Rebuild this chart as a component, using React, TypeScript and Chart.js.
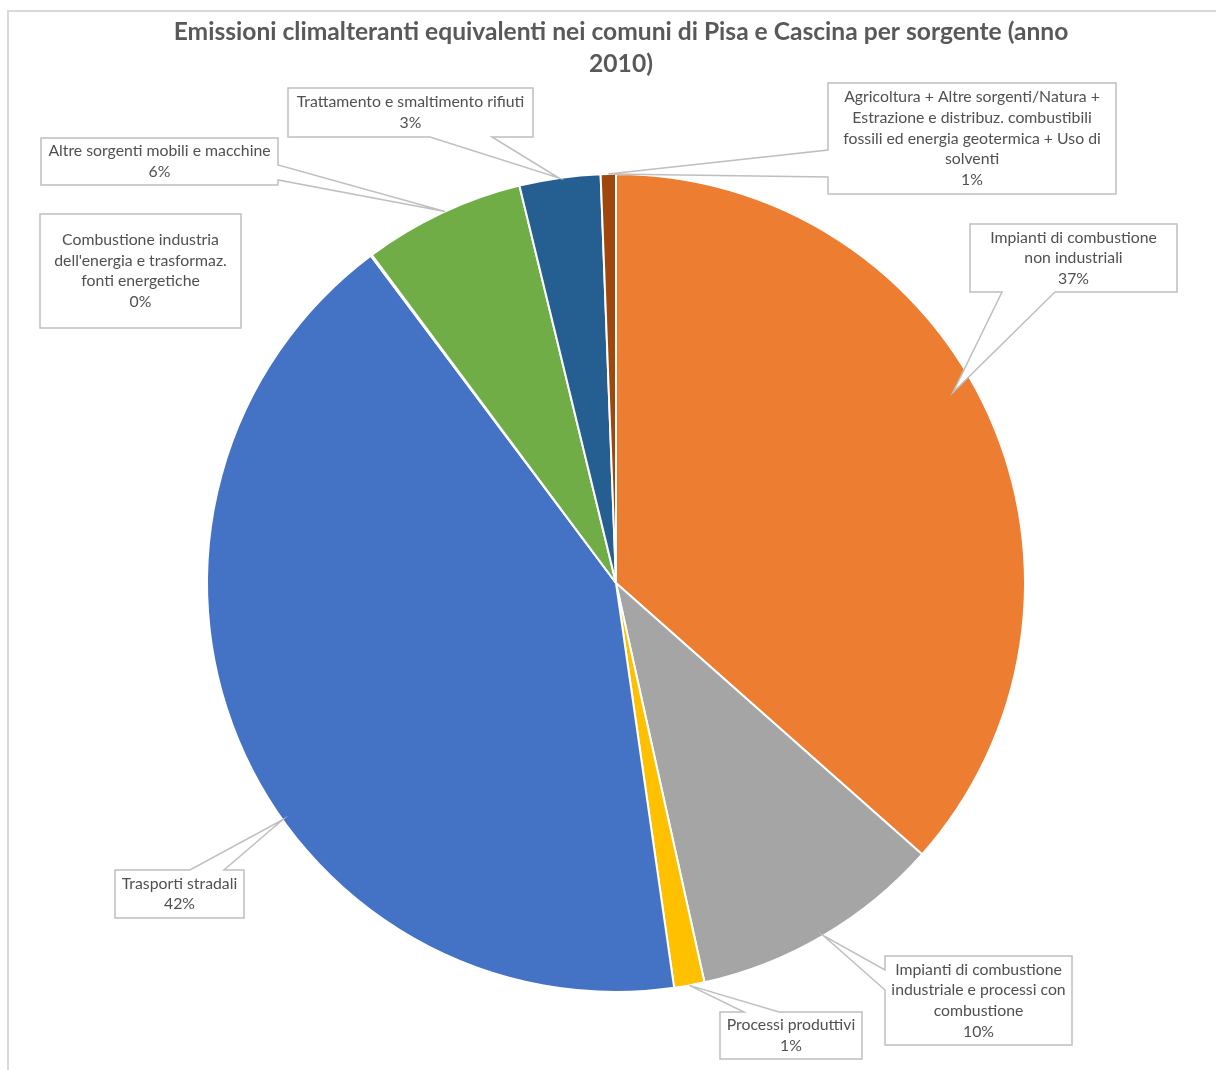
import React, { useEffect, useRef } from "react";
import { Chart, registerables } from "chart.js";

Chart.register(...registerables);

// ---- data ----
const titleLines = [
  "Emissioni climalteranti equivalenti nei comuni di Pisa e Cascina per sorgente (anno",
  "2010)",
];

const categories = [
  "Impianti di combustione non industriali",
  "Impianti di combustione industriale e processi con combustione",
  "Processi produttivi",
  "Trasporti stradali",
  "Combustione industria dell'energia e trasformaz. fonti energetiche",
  "Altre sorgenti mobili e macchine",
  "Trattamento e smaltimento rifiuti",
  "Agricoltura + Altre sorgenti/Natura + Estrazione e distribuz. combustibili fossili ed energia geotermica + Uso di solventi",
];

// share of emissions (%)
const shares = [36.6, 10.0, 1.2, 42.1, 0.05, 6.4, 3.2, 0.6];

// label text as wrapped in the reference
const labelLines = [
  ["Impianti di combustione", "non industriali"],
  ["Impianti di combustione", "industriale e processi con", "combustione"],
  ["Processi produttivi"],
  ["Trasporti stradali"],
  ["Combustione industria", "dell'energia e trasformaz.", "fonti energetiche"],
  ["Altre sorgenti mobili e macchine"],
  ["Trattamento e smaltimento rifiuti"],
  ["Agricoltura + Altre sorgenti/Natura +", "Estrazione e distribuz. combustibili", "fossili ed energia geotermica + Uso di", "solventi"],
];

const colors = ["#ED7D31", "#A5A5A5", "#FFC000", "#4472C4", "#5B9BD5", "#70AD47", "#255E91", "#9E480E"];

// ---- layout of callouts (positions/styling only) ----
type Box = { x: number; y: number; w: number; h: number; side: string | null; a: number; b: number; frac: number; rf: number };
const boxes: Box[] = [
  { x: 970, y: 224, w: 207, h: 68, side: "bottom", a: 1002, b: 1055, frac: 0.46, rf: 0.946 },
  { x: 885, y: 956, w: 187, h: 89, side: "left", a: 970, b: 990, frac: 0.5, rf: 1.0 },
  { x: 720, y: 1012, w: 142, h: 47, side: "top", a: 744, b: 779, frac: 0.5, rf: 1.0 },
  { x: 115, y: 870, w: 129, h: 48, side: "top", a: 190, b: 224, frac: 0.415, rf: 1.0 },
  { x: 40, y: 214, w: 201, h: 114, side: null, a: 0, b: 0, frac: 0.5, rf: 1.0 },
  { x: 41, y: 138, w: 237, h: 47, side: "right", a: 165, b: 180, frac: 0.52, rf: 1.0 },
  { x: 288, y: 88, w: 245, h: 49, side: "bottom", a: 430, b: 492, frac: 0.49, rf: 1.0 },
  { x: 828, y: 83, w: 288, h: 111, side: "left", a: 150, b: 177, frac: 0.5, rf: 1.0 },
];

const FONT = "Lato, 'Open Sans', sans-serif";

const calloutPlugin = {
  id: "callouts",
  afterDraw(chart: any) {
    const ctx: CanvasRenderingContext2D = chart.ctx;
    // outer frame
    ctx.save();
    ctx.strokeStyle = "#D9D9D9";
    ctx.lineWidth = 2;
    ctx.strokeRect(8, 11, 1400, 1200);

    // title
    ctx.fillStyle = "#595959";
    ctx.font = `bold 24.6px ${FONT}`;
    ctx.textAlign = "center";
    ctx.textBaseline = "middle";
    titleLines.forEach((t, i) => ctx.fillText(t, 621, 32 + i * 32));

    const meta = chart.getDatasetMeta(0);
    const total = shares.reduce((s, v) => s + v, 0);
    meta.data.forEach((arc: any, i: number) => {
      const bx = boxes[i];
      const p = arc.getProps(["x", "y", "startAngle", "endAngle", "outerRadius"], true);
      const ang = p.startAngle + bx.frac * (p.endAngle - p.startAngle);
      const tx = p.x + p.outerRadius * bx.rf * Math.cos(ang);
      const ty = p.y + p.outerRadius * bx.rf * Math.sin(ang);
      const { x, y, w, h } = bx;
      ctx.beginPath();
      ctx.moveTo(x, y);
      if (bx.side === "top") { ctx.lineTo(bx.a, y); ctx.lineTo(tx, ty); ctx.lineTo(bx.b, y); }
      ctx.lineTo(x + w, y);
      if (bx.side === "right") { ctx.lineTo(x + w, bx.a); ctx.lineTo(tx, ty); ctx.lineTo(x + w, bx.b); }
      ctx.lineTo(x + w, y + h);
      if (bx.side === "bottom") { ctx.lineTo(bx.b, y + h); ctx.lineTo(tx, ty); ctx.lineTo(bx.a, y + h); }
      ctx.lineTo(x, y + h);
      if (bx.side === "left") { ctx.lineTo(x, bx.b); ctx.lineTo(tx, ty); ctx.lineTo(x, bx.a); }
      ctx.closePath();
      ctx.fillStyle = "#FFFFFF";
      ctx.fill();
      ctx.strokeStyle = "#BFBFBF";
      ctx.lineWidth = 1.5;
      ctx.stroke();

      const lines = [...labelLines[i], Math.round((shares[i] / total) * 100) + "%"];
      const lh = 20.6;
      const cy = y + h / 2;
      ctx.fillStyle = "#505050";
      ctx.font = `15.8px ${FONT}`;
      ctx.textAlign = "center";
      ctx.textBaseline = "middle";
      lines.forEach((t, k) => {
        ctx.fillText(t, x + w / 2, cy + (k - (lines.length - 1) / 2) * lh);
      });
    });
    ctx.restore();
  },
};

export default function App() {
  const ref = useRef<HTMLCanvasElement | null>(null);
  useEffect(() => {
    if (!ref.current) return;
    const chart = new Chart(ref.current, {
      type: "pie",
      data: {
        labels: categories,
        datasets: [
          {
            data: shares,
            backgroundColor: colors,
            borderColor: "#FFFFFF",
            borderWidth: 2,
          },
        ],
      },
      options: {
        animation: false,
        responsive: false,
        devicePixelRatio: 1,
        layout: { padding: { left: 206, right: 190, top: 173, bottom: 77 } },
        plugins: {
          legend: { display: false },
          tooltip: { enabled: false },
          title: { display: false },
        },
      },
      plugins: [calloutPlugin],
    });
    return () => chart.destroy();
  }, []);
  return (
    <div style={{ position: "absolute", left: 0, top: 0, width: 1216, height: 1070, background: "#FFFFFF" }}>
      <canvas ref={ref} width={1216} height={1070} style={{ width: 1216, height: 1070, display: "block" }} />
    </div>
  );
}
